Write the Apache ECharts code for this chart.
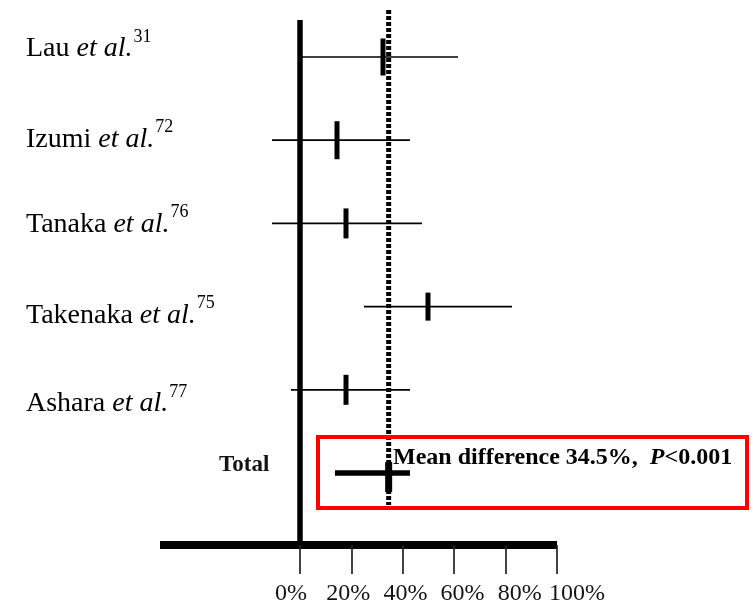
<!DOCTYPE html>
<html>
<head>
<meta charset="utf-8">
<script src="https://cdn.jsdelivr.net/npm/echarts@6/dist/echarts.min.js"></script>
<style>
  html, body { margin: 0; padding: 0; background: #ffffff; }
  #chart { width: 753px; height: 608px; }
</style>
</head>
<body>
<div id="chart"></div>
<script>
// Individual studies: point estimate and confidence interval, in percent
const studies   = ['Lau', 'Izumi', 'Tanaka', 'Takenaka', 'Ashara'];
const refs      = ['31', '72', '76', '75', '77'];
const estimate  = [32.3, 14.4, 17.9, 49.8, 17.9];
const lowerCI   = [0, -10.9, -10.9, 24.9, -3.5];
const upperCI   = [61.5, 42.8, 47.5, 82.5, 42.8];

// Pooled result
const totalLabel    = 'Total';
const totalEstimate = 34.5;
const totalLower    = 13.6;
const totalUpper    = 42.8;
const pValueText    = '<0.001';

// Axis ticks
const tickValues = [0, 20, 40, 60, 80, 100];
const tickLabels = ['0%', '20%', '40%', '60%', '80%', '100%'];

// Drawing styles (not data)
const markerHeights = [37, 38, 30, 28, 30];
const labelShift    = [0, 7, 9, 17, 22];
const SERIF = '"Liberation Serif", "Times New Roman", serif';
const INK = '#141414';

const chart = echarts.init(document.getElementById('chart'), null, { renderer: 'canvas' });
const totalRow = studies.length;

// study names: regular name, italic "et al.", raised reference number
const studyRich = {
  n: { fontFamily: SERIF, fontSize: 28, lineHeight: 42, color: INK },
  i: { fontFamily: SERIF, fontSize: 28, lineHeight: 42, color: INK, fontStyle: 'italic' },
  s: { fontFamily: SERIF, fontSize: 18, lineHeight: 18, color: INK, verticalAlign: 'top', padding: [0, 0, 0, 1] }
};

chart.setOption({
  backgroundColor: '#ffffff',
  animation: false,
  grid: [
    { left: 160, top: 20, width: 397, height: 525 },
    { left: 291, top: 20, width: 286, height: 525 }
  ],
  xAxis: [
    {
      gridIndex: 0, type: 'value', min: -54.47, max: 100,
      axisLine: { show: true, onZero: false, lineStyle: { color: '#000', width: 8, cap: 'butt' } },
      axisTick: { show: true, customValues: tickValues, length: 29, lineStyle: { color: '#222', width: 1.7 } },
      axisLabel: { show: false },
      splitLine: { show: false }
    },
    {
      gridIndex: 1, type: 'value', min: 0, max: 100, interval: 20,
      axisLine: { show: false }, axisTick: { show: false }, splitLine: { show: false },
      axisLabel: {
        show: true, showMinLabel: true, showMaxLabel: true, margin: 37,
        fontFamily: SERIF, fontSize: 24, color: INK,
        formatter: v => { const k = tickValues.indexOf(v); return k >= 0 ? tickLabels[k] : ''; }
      }
    }
  ],
  yAxis: [
    {
      gridIndex: 0, type: 'value', inverse: true, min: -0.4447, max: 5.865,
      axisLine: { show: true, onZero: true, lineStyle: { color: '#000', width: 5.5, cap: 'butt' } },
      axisTick: { show: false }, axisLabel: { show: false }, splitLine: { show: false }
    },
    { gridIndex: 1, type: 'value', show: false, min: 0, max: 1 }
  ],
  series: [
    {
      // dotted reference line at the pooled mean difference
      type: 'custom', xAxisIndex: 0, yAxisIndex: 0, z: 2,
      data: [[totalEstimate]],
      dimensions: ['mean'],
      encode: { x: 0 },
      renderItem: (params, api) => {
        const v = api.value(0);
        const a = api.coord([v, -0.565]);
        const b = api.coord([v, 5.385]);
        return {
          type: 'line',
          shape: { x1: a[0], y1: a[1], x2: b[0], y2: b[1] },
          style: { stroke: '#000', lineWidth: 5, lineDash: [4, 2] }
        };
      }
    },
    {
      // each study: CI whisker, estimate marker and label
      type: 'custom', xAxisIndex: 0, yAxisIndex: 0, z: 3,
      dimensions: ['lower', 'estimate', 'upper', 'row'],
      encode: { x: [0, 1, 2], y: 3 },
      data: studies.map((s, k) => [lowerCI[k], estimate[k], upperCI[k], k]),
      renderItem: (params, api) => {
        const row = api.value(3);
        const lo = api.coord([api.value(0), row]);
        const mid = api.coord([api.value(1), row]);
        const hi = api.coord([api.value(2), row]);
        const y = lo[1];
        const h = markerHeights[row];
        return {
          type: 'group',
          children: [
            { type: 'line', shape: { x1: lo[0], y1: y, x2: hi[0], y2: y },
              style: { stroke: '#000', lineWidth: 1.7 } },
            { type: 'rect', shape: { x: mid[0] - 2.5, y: y - h / 2, width: 5, height: h },
              style: { fill: '#000' } },
            { type: 'text', x: 26, y: y + labelShift[row] - 8,
              style: {
                text: '{n|' + studies[row] + ' }{i|et al.}{s|' + refs[row] + '}',
                rich: studyRich, align: 'left', verticalAlign: 'middle'
              } }
          ]
        };
      }
    },
    {
      // pooled estimate
      type: 'custom', xAxisIndex: 0, yAxisIndex: 0, z: 4,
      dimensions: ['lower', 'estimate', 'upper', 'row'],
      encode: { x: [0, 1, 2], y: 3 },
      data: [[totalLower, totalEstimate, totalUpper, totalRow]],
      renderItem: (params, api) => {
        const row = api.value(3);
        const lo = api.coord([api.value(0), row]);
        const mid = api.coord([api.value(1), row]);
        const hi = api.coord([api.value(2), row]);
        const y = lo[1];
        return {
          type: 'group',
          children: [
            { type: 'line', shape: { x1: lo[0], y1: y, x2: hi[0], y2: y },
              style: { stroke: '#000', lineWidth: 5.5 } },
            { type: 'rect', shape: { x: mid[0] - 3.5, y: y - 11, width: 7, height: 30 },
              style: { fill: '#000' } },
            { type: 'text', x: 219, y: y - 8,
              style: { text: totalLabel, fontFamily: SERIF, fontSize: 23, fontWeight: 'bold',
                       fill: INK, align: 'left', verticalAlign: 'middle' } }
          ]
        };
      }
    }
  ],
  graphic: [
    {
      type: 'rect', z: 10,
      shape: { x: 318, y: 437, width: 429, height: 71 },
      style: { fill: 'none', stroke: '#ff0000', lineWidth: 4 }
    },
    {
      type: 'text', z: 11, left: 393, top: 446,
      style: {
        text: '{b|Mean difference ' + totalEstimate + '%,  }{p|P}{b|' + pValueText + '}',
        rich: {
          b: { fontFamily: SERIF, fontSize: 24, fontWeight: 'bold', color: INK },
          p: { fontFamily: SERIF, fontSize: 24, fontWeight: 'bold', fontStyle: 'italic', color: INK }
        }
      }
    }
  ]
});
</script>
</body>
</html>
